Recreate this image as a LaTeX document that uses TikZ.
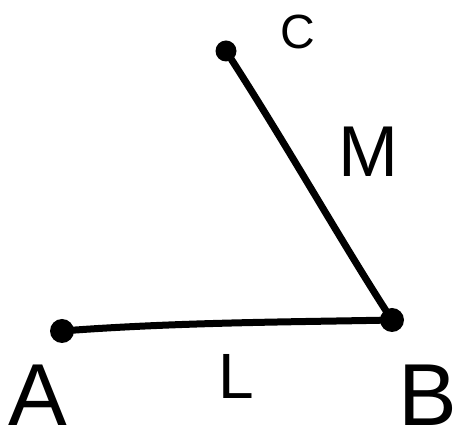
\documentclass[tikz,border=0pt]{standalone}
\usepackage{fontspec}
\setmainfont{Liberation Sans}
\tikzset{
  pt/.style={circle, fill=black, inner sep=0pt, minimum size=24pt},
  seg/.style={line width=7pt, line cap=round},
  lbl/.style={inner sep=0pt}
}
\begin{document}
\begin{tikzpicture}[x=1pt, y=-1pt]
		\useasboundingbox (0,0) rectangle (464,443);
		
		% Points
		\node[pt] (A) at (62, 331) {};
		\node[pt] (B) at (392, 320) {};
		\node[pt, minimum size=21pt] (C) at (226, 51) {};
		
		% Segments
		\draw[seg] (A.center) .. controls (180, 322) and (300, 322) .. (B.center);
		\draw[seg] (C.center) .. controls (290, 150) and (340, 240) .. (B.center);
		
		% Labels
		\node[lbl, font=\fontsize{48}{48}\selectfont] (labC) at (298, 32) {C};
		\node[lbl, font=\fontsize{72}{72}\selectfont] (labM) at (368, 152) {M};
		\node[lbl, font=\fontsize{64}{64}\selectfont] (labL) at (236, 376) {L};
		\node[lbl, anchor=base, font=\fontsize{88}{88}\selectfont] (labA) at (38, 426) {A};
		\node[lbl, anchor=base, font=\fontsize{88}{88}\selectfont] (labB) at (428, 426) {B};
		
	\end{tikzpicture}
\end{document}
